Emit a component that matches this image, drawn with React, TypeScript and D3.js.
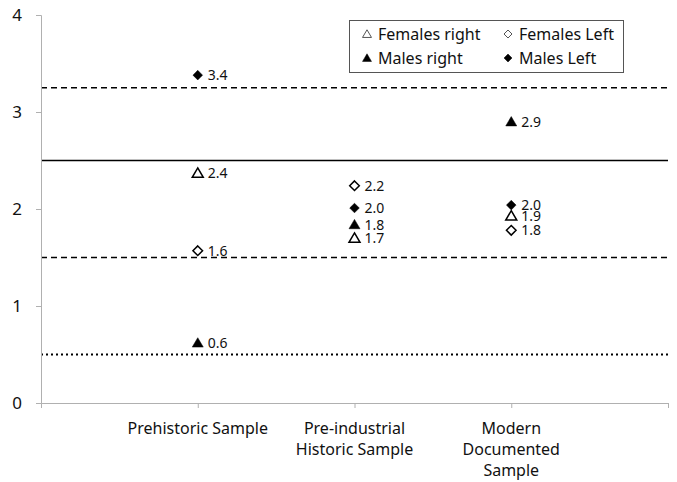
import { useEffect, useRef } from "react";
import * as d3 from "d3";

const W = 677;
const H = 482;

const categories = [
  ["Prehistoric Sample"],
  ["Pre-industrial", "Historic Sample"],
  ["Modern", "Documented", "Sample"],
];
const femalesRight = [2.37, 1.7, 1.93];
const femalesLeft = [1.57, 2.24, 1.78];
const malesRight = [0.62, 1.84, 2.9];
const malesLeft = [3.38, 2.01, 2.04];
const yTicks = [0, 1, 2, 3, 4];
const refLines = [
  { v: 3.25, dash: "6,4" },
  { v: 2.5, dash: "" },
  { v: 1.5, dash: "6,4" },
  { v: 0.5, dash: "2,3" },
];

const series = [
  { name: "Females right", values: femalesRight, shape: "tri", filled: false },
  { name: "Females Left", values: femalesLeft, shape: "dia", filled: false },
  { name: "Males right", values: malesRight, shape: "tri", filled: true },
  { name: "Males Left", values: malesLeft, shape: "dia", filled: true },
];

const FONT = "'Noto Sans', sans-serif";

// path for a marker centred at 0,0
function marker(shape: string, r: number) {
  if (shape === "tri") {
    const h = r * 1.7;
    return `M0,${-h * 0.55}L${r},${h * 0.45}L${-r},${h * 0.45}Z`;
  }
  return `M0,${-r}L${r},0L0,${r}L${-r},0Z`;
}

export default function App() {
  const svgRef = useRef<SVGSVGElement>(null);

  useEffect(() => {
    const svg = d3.select(svgRef.current);
    svg.selectAll("*").remove();

    const x = d3.scaleLinear().domain([0, 4]).range([41, 668]);
    const y = d3.scaleLinear().domain([0, 4]).range([403, 15]);

    // reference lines
    refLines.forEach((r) => {
      svg
        .append("line")
        .attr("x1", x(0))
        .attr("x2", x(4))
        .attr("y1", y(r.v))
        .attr("y2", y(r.v))
        .attr("stroke", "#000")
        .attr("stroke-width", r.dash === "2,3" ? 2.2 : 1.6)
        .attr("stroke-dasharray", r.dash || null);
    });

    // y axis
    const yAxis = svg
      .append("g")
      .attr("transform", `translate(${x(0)},0)`)
      .call(d3.axisLeft(y).tickValues(yTicks).tickSize(5).tickPadding(14).tickFormat(d3.format("d")));
    yAxis.select(".domain").attr("stroke", "#b0b0b0");
    yAxis.selectAll("line").attr("stroke", "#b0b0b0");
    yAxis.selectAll("text").attr("font-family", FONT).attr("font-size", 17).attr("fill", "#111");

    // x axis
    const xAxis = svg
      .append("g")
      .attr("transform", `translate(0,${y(0)})`)
      .call(d3.axisBottom(x).tickValues([1, 2, 3, 4]).tickSize(5).tickFormat(() => ""));
    xAxis.select(".domain").attr("stroke", "#b0b0b0");
    xAxis.selectAll("line").attr("stroke", "#b0b0b0");

    categories.forEach((lines, i) => {
      const t = svg
        .append("text")
        .attr("x", x(i + 1))
        .attr("y", 434)
        .attr("text-anchor", "middle")
        .attr("font-family", FONT)
        .attr("font-size", 16)
        .attr("fill", "#111");
      lines.forEach((l, j) => {
        t.append("tspan").attr("x", x(i + 1)).attr("dy", j === 0 ? 0 : 21).text(l);
      });
    });

    // points
    series.forEach((s) => {
      s.values.forEach((v, i) => {
        svg
          .append("path")
          .attr("d", marker(s.shape, s.shape === "tri" ? 5.5 : 4.8))
          .attr("transform", `translate(${x(i + 1)},${y(v)})`)
          .attr("fill", s.filled ? "#000" : "#fff")
          .attr("stroke", "#000")
          .attr("stroke-width", s.filled ? 0.5 : 1.5);
        svg
          .append("text")
          .attr("x", x(i + 1) + 10)
          .attr("y", y(v) + 5)
          .attr("font-family", FONT)
          .attr("font-size", 14)
          .attr("fill", "#111")
          .text(d3.format(".1f")(v));
      });
    });

    // legend
    const lg = svg.append("g");
    lg.append("rect")
      .attr("x", 349.5)
      .attr("y", 20.5)
      .attr("width", 274)
      .attr("height", 52)
      .attr("fill", "#fff")
      .attr("stroke", "#555")
      .attr("stroke-width", 1);
    series.forEach((s, i) => {
      const col = i % 2;
      const row = Math.floor(i / 2);
      const lx = col === 0 ? 367 : 508;
      const ly = row === 0 ? 34 : 58;
      lg.append("path")
        .attr("d", marker(s.shape, s.shape === "tri" ? 4.5 : 4))
        .attr("transform", `translate(${lx},${ly})`)
        .attr("fill", s.filled ? "#000" : "#fff")
        .attr("stroke", s.filled ? "#000" : "#555")
        .attr("stroke-width", s.filled ? 0.5 : 1);
      lg.append("text")
        .attr("x", lx + 11)
        .attr("y", ly + 5.5)
        .attr("font-family", FONT)
        .attr("font-size", 16)
        .attr("fill", "#111")
        .text(s.name);
    });
  }, []);

  return (
    <svg
      ref={svgRef}
      width={W}
      height={H}
      style={{ position: "absolute", left: 0, top: 0, display: "block" }}
    />
  );
}
